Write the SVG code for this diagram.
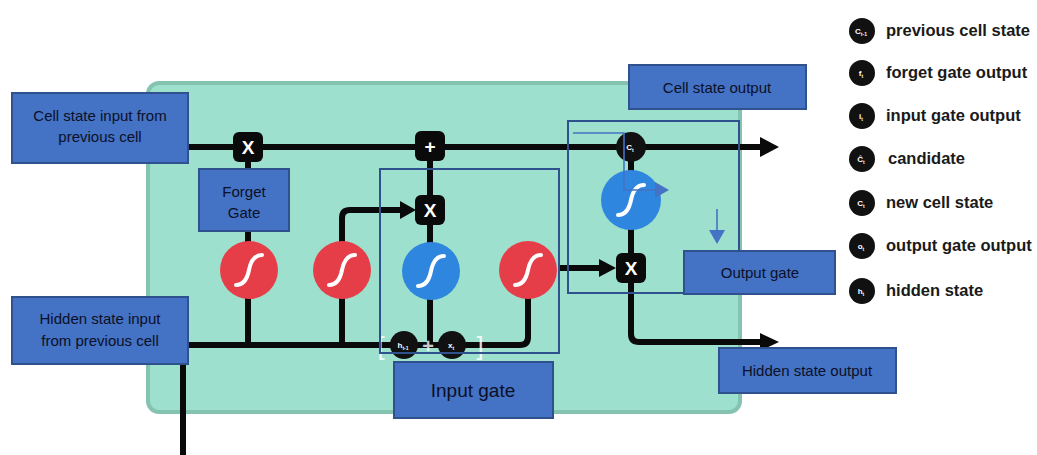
<svg xmlns="http://www.w3.org/2000/svg" width="1037" height="455" viewBox="0 0 1037 455">
<defs>
<style>
.ln{fill:none;stroke:#0a0a0a;stroke-width:6;stroke-linejoin:round}
.ah{fill:#0a0a0a}
.op{fill:#0a0a0a}
.opt{fill:#fff;font-family:"Liberation Sans",Arial,sans-serif;font-weight:bold;font-size:19px;text-anchor:middle}
.red{fill:#e63e48}
.blu{fill:#2f86de}
.sig{fill:none;stroke:#fff;stroke-width:4;stroke-linecap:round}
.lbl{fill:#4472c4;stroke:#2f528f;stroke-width:2}
.lt{fill:#0b1028;font-family:"Liberation Sans",Arial,sans-serif;font-size:15px;text-anchor:middle}
.big{font-size:19px}
.ol{fill:none;stroke:#2f528f;stroke-width:2}
.thin{fill:none;stroke:#4472c4;stroke-width:1.6}
.thinh{fill:#4472c4}
.lg{fill:#111}
.lgt{fill:#1a1a1a;font-family:"Liberation Sans",Arial,sans-serif;font-weight:bold;font-size:16.5px}
.sub{fill:#fff;font-family:"Liberation Sans",Arial,sans-serif;font-weight:bold;font-size:8px;text-anchor:middle}
</style>
</defs>
<rect width="1037" height="455" fill="#fff"/>
<g id="cell">
<rect x="148" y="83" width="592" height="329" rx="11" fill="#9de0cd" stroke="#85c3b1" stroke-width="4"/>
</g>
<g id="connectors">
<path class="ln" d="M150,147 H762"/>
<polygon class="ah" points="760,137 779,147 760,157"/>
<path class="ln" d="M183,455 V345 H520 Q528,345 528,337 V290"/>
<path class="ln" d="M248,147 V345"/>
<path class="ln" d="M342,345 V218 Q342,210 350,210 H402"/>
<polygon class="ah" points="400,201 416,210 400,219"/>
<path class="ln" d="M430,147 V345"/>
<path class="ln" d="M558,268 H601"/>
<polygon class="ah" points="599,259 616,268 599,277"/>
<path class="ln" d="M631,147 V268"/>
<path class="ln" d="M631,268 V334 Q631,342 639,342 H762"/>
<polygon class="ah" points="760,333 779,342 760,351"/>
</g>
<g id="forget-mult"><rect class="op" x="233" y="132" width="30" height="30" rx="6"/><text class="opt" x="248" y="154">X</text></g>
<g id="add"><rect class="op" x="415" y="131" width="30" height="30" rx="6"/><text class="opt" x="430" y="153">+</text></g>
<g id="input-mult"><rect class="op" x="415" y="195" width="30" height="30" rx="6"/><text class="opt" x="430" y="217">X</text></g>
<g id="output-mult"><rect class="op" x="616" y="253" width="30" height="30" rx="6"/><text class="opt" x="631" y="275">X</text></g>
<g id="sigmoid-forget"><circle class="red" cx="249" cy="270" r="29"/><path class="sig" d="M236,285 Q246,285 249,270 T262,255"/></g>
<g id="sigmoid-input"><circle class="red" cx="342" cy="270" r="29"/><path class="sig" d="M329,285 Q339,285 342,270 T355,255"/></g>
<g id="tanh-candidate"><circle class="blu" cx="431" cy="271" r="29"/><path class="sig" d="M418,286 Q428,286 431,271 T444,256"/></g>
<g id="sigmoid-output"><circle class="red" cx="528" cy="270" r="29"/><path class="sig" d="M515,285 Q525,285 528,270 T541,255"/></g>
<g id="ct"><circle class="lg" cx="631" cy="147" r="15"/><text class="sub" x="630" y="150">C<tspan font-size="5" dy="2">t</tspan></text></g>
<g id="tanh-output"><circle class="blu" cx="631" cy="200" r="30"/><path class="sig" d="M618,215 Q628,215 631,200 T644,185"/></g>
<g id="concat">
<text x="381" y="355" fill="#fff" fill-opacity="0.85" font-family="Liberation Sans,Arial,sans-serif" font-size="26" text-anchor="middle">[</text>
<text x="480" y="355" fill="#fff" fill-opacity="0.85" font-family="Liberation Sans,Arial,sans-serif" font-size="26" text-anchor="middle">]</text>
<circle class="lg" cx="404" cy="345" r="14"/><text class="sub" x="403" y="348">h<tspan font-size="5" dy="2">t-1</tspan></text>
<text x="428" y="353" fill="#fff" fill-opacity="0.8" font-family="Liberation Sans,Arial,sans-serif" font-size="20" font-weight="bold" text-anchor="middle">+</text>
<circle class="lg" cx="452" cy="345" r="14"/><text class="sub" x="451" y="348">x<tspan font-size="5" dy="2">t</tspan></text>
</g>
<g id="input-gate-outline"><rect class="ol" x="380" y="169" width="179" height="184"/></g>
<g id="output-gate-outline"><rect class="ol" x="568" y="121" width="171" height="172"/></g>
<g id="output-gate-arrows">
<path class="thin" d="M573,133 H624 V190 H656"/>
<polygon class="thinh" points="655,182 669,190 655,198"/>
<path class="thin" d="M717,209 V232"/>
<polygon class="thinh" points="709,230 717,244 725,230"/>
</g>
<g id="label-cell-input"><rect class="lbl" x="12" y="93" width="176" height="70"/><text class="lt" x="100" y="121">Cell state input from</text><text class="lt" x="100" y="142">previous cell</text></g>
<g id="label-forget"><rect class="lbl" x="199" y="169" width="90" height="62"/><text class="lt" x="244" y="197">Forget</text><text class="lt" x="244" y="218">Gate</text></g>
<g id="label-hidden-input"><rect class="lbl" x="12" y="297" width="176" height="67"/><text class="lt" x="100" y="324">Hidden state input</text><text class="lt" x="100" y="346">from previous cell</text></g>
<g id="label-cell-output"><rect class="lbl" x="629" y="65" width="177" height="44"/><text class="lt" x="717" y="93">Cell state output</text></g>
<g id="label-output-gate"><rect class="lbl" x="684" y="251" width="151" height="43"/><text class="lt" x="760" y="278">Output gate</text></g>
<g id="label-hidden-output"><rect class="lbl" x="719" y="348" width="177" height="45"/><text class="lt" x="807" y="376">Hidden state output</text></g>
<g id="label-input-gate"><rect class="lbl" x="394" y="362" width="159" height="56"/><text class="lt big" x="473" y="397">Input gate</text></g>
<g id="legend">
<circle class="lg" cx="862" cy="31" r="13"/><text class="sub" x="861" y="34">C<tspan font-size="5" dy="2">t-1</tspan></text><text class="lgt" x="886" y="36">previous cell state</text>
<circle class="lg" cx="862" cy="73" r="13"/><text class="sub" x="861" y="76">f<tspan font-size="5" dy="2">t</tspan></text><text class="lgt" x="886" y="78">forget gate output</text>
<circle class="lg" cx="862" cy="116" r="13"/><text class="sub" x="861" y="119">i<tspan font-size="5" dy="2">t</tspan></text><text class="lgt" x="886" y="121">input gate output</text>
<circle class="lg" cx="862" cy="159" r="13"/><text class="sub" x="861" y="162">Ĉ<tspan font-size="5" dy="2">t</tspan></text><text class="lgt" x="888" y="164">candidate</text>
<circle class="lg" cx="862" cy="203" r="13"/><text class="sub" x="861" y="206">C<tspan font-size="5" dy="2">t</tspan></text><text class="lgt" x="886" y="208">new cell state</text>
<circle class="lg" cx="862" cy="246" r="13"/><text class="sub" x="861" y="249">o<tspan font-size="5" dy="2">t</tspan></text><text class="lgt" x="886" y="251">output gate output</text>
<circle class="lg" cx="862" cy="291" r="13"/><text class="sub" x="861" y="294">h<tspan font-size="5" dy="2">t</tspan></text><text class="lgt" x="886" y="296">hidden state</text>
</g>
</svg>
